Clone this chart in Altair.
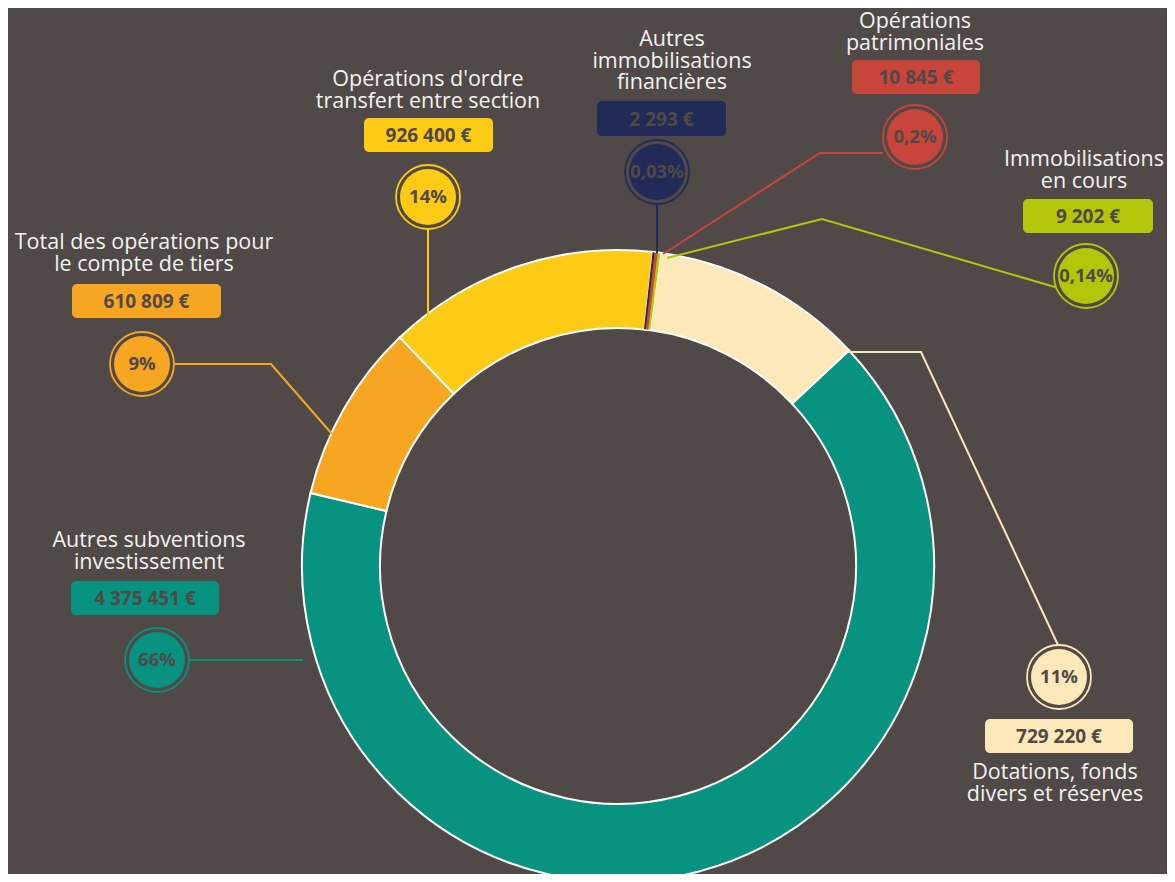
import math
import altair as alt
import pandas as pd

# ---------------- data ----------------
categories = [
    "Autres immobilisations financières",
    "Opérations patrimoniales",
    "Immobilisations en cours",
    "Dotations, fonds divers et réserves",
    "Autres subventions investissement",
    "Total des opérations pour le compte de tiers",
    "Opérations d'ordre transfert entre section",
]
values = [2293, 10845, 9202, 729220, 4375451, 610809, 926400]
value_labels = ["2 293 €", "10 845 €", "9 202 €", "729 220 €", "4 375 451 €", "610 809 €", "926 400 €"]
pct_labels = ["0,03%", "0,2%", "0,14%", "11%", "66%", "9%", "14%"]
title_lines = [
    ["Autres", "immobilisations", "financières"],
    ["Opérations", "patrimoniales"],
    ["Immobilisations", "en cours"],
    ["Dotations, fonds", "divers et réserves"],
    ["Autres subventions", "investissement"],
    ["Total des opérations pour", "le compte de tiers"],
    ["Opérations d'ordre", "transfert entre section"],
]
colors = ["#222a57", "#c8453c", "#b4c60a", "#fde8b9", "#07937f", "#f7a622", "#fdca16"]

# ---------------- layout (page pixel coordinates) ----------------
M = 8  # page margin
BG = "#504947"
TXT_DARK = "#504947"
center = (618, 566)
outer_r, inner_r = 316, 238
start_deg = 6.4

circle_xy = [(657, 172), (915, 137), (1086, 276), (1059, 677), (157, 660), (142, 364), (428, 197)]
boxes = [(597, 726, 101, 136), (852, 980, 60, 94), (1023, 1153, 199, 233), (985, 1133, 719, 753),
         (71, 219, 581, 615), (72, 221, 284, 318), (364, 493, 118, 152)]
title_anchor = [(672, 46), (915, 28), (1084, 166), (1055, 779), (149, 547), (144, 249), (428, 86)]
line_step = 21.5
leaders = [
    [(657, 204), (657, 253)],
    [(883, 153), (820, 153), (663, 254)],
    [(1055, 287), (822, 219), (667, 258)],
    [(847, 352), (921, 352), (1058, 645)],
    [(189, 660), (303, 660)],
    [(174, 364), (271, 364), (332, 434)],
    [(428, 229), (428, 318)],
]

# ---------------- tables ----------------
slices = pd.DataFrame({"cat": categories, "value": values, "idx": list(range(len(categories)))})
total = float(sum(values))

lbl = pd.DataFrame({
    "cat": categories,
    "cx": [p[0] - M for p in circle_xy],
    "cy": [p[1] - M for p in circle_xy],
    "pct": pct_labels,
    "vlabel": value_labels,
    "bx": [b[0] - M for b in boxes],
    "bx2": [b[1] - M for b in boxes],
    "by": [b[2] - M for b in boxes],
    "by2": [b[3] - M for b in boxes],
})
lbl["bxc"] = (lbl["bx"] + lbl["bx2"]) / 2
lbl["byc"] = (lbl["by"] + lbl["by2"]) / 2

trows = []
for c, lines, (ax, ay) in zip(categories, title_lines, title_anchor):
    for i, t in enumerate(lines):
        trows.append({"cat": c, "text": t, "tx": ax - M, "ty": ay - M + i * line_step})
titles = pd.DataFrame(trows)

lrows = []
for c, pts in zip(categories, leaders):
    for j, (px, py) in enumerate(pts):
        lrows.append({"cat": c, "pt": j, "lx": px - M, "ly": py - M})
lines_df = pd.DataFrame(lrows)

cscale = alt.Scale(domain=categories, range=colors)
off = math.radians(start_deg)
theta_scale = alt.Scale(domain=[0, total], range=[off, off + 2 * math.pi])
CX, CY = center[0] - M, center[1] - M

base_arc = alt.Chart(slices).transform_window(
    cum="sum(value)", sort=[alt.SortField("idx")]
).transform_calculate(start="datum.cum - datum.value")

donut = base_arc.mark_arc(outerRadius=outer_r, innerRadius=inner_r, stroke="white", strokeWidth=2).encode(
    theta=alt.Theta("start:Q", scale=theta_scale),
    theta2=alt.Theta2("cum:Q"),
    color=alt.Color("cat:N", scale=cscale, legend=None),
    x=alt.value(CX), y=alt.value(CY),
)

tiny = base_arc.transform_filter("datum.value < 50000").mark_arc(
    outerRadius=outer_r - 1, innerRadius=inner_r + 1, strokeWidth=1.2
).encode(
    theta=alt.Theta("start:Q", scale=theta_scale),
    theta2=alt.Theta2("cum:Q"),
    color=alt.Color("cat:N", scale=cscale, legend=None),
    stroke=alt.Stroke("cat:N", scale=cscale, legend=None),
    order=alt.Order("idx:Q", sort="descending"),
    x=alt.value(CX), y=alt.value(CY),
)

leader = alt.Chart(lines_df).mark_line(strokeWidth=2).encode(
    x=alt.X("lx:Q", scale=None, axis=None),
    y=alt.Y("ly:Q", scale=None, axis=None),
    detail="cat:N",
    order=alt.Order("pt:Q"),
    color=alt.Color("cat:N", scale=cscale, legend=None),
)

ring = alt.Chart(lbl).mark_point(shape="circle", filled=False, size=64 * 64, strokeWidth=1.8, opacity=1).encode(
    x=alt.X("cx:Q", scale=None, axis=None),
    y=alt.Y("cy:Q", scale=None, axis=None),
    stroke=alt.Stroke("cat:N", scale=cscale, legend=None),
)
disc = alt.Chart(lbl).mark_point(shape="circle", filled=True, size=56 * 56, opacity=1).encode(
    x=alt.X("cx:Q", scale=None, axis=None),
    y=alt.Y("cy:Q", scale=None, axis=None),
    color=alt.Color("cat:N", scale=cscale, legend=None),
)
pct_text = alt.Chart(lbl).mark_text(font="Open Sans", fontWeight="bold", fontSize=18.5, color=TXT_DARK,
                                     baseline="middle", align="center").encode(
    x=alt.X("cx:Q", scale=None, axis=None),
    y=alt.Y("cy:Q", scale=None, axis=None),
    text="pct:N",
)

box = alt.Chart(lbl).mark_rect(cornerRadius=5).encode(
    x=alt.X("bx:Q", scale=None, axis=None), x2="bx2:Q",
    y=alt.Y("by:Q", scale=None, axis=None), y2="by2:Q",
    color=alt.Color("cat:N", scale=cscale, legend=None),
)
box_text = alt.Chart(lbl).mark_text(font="Open Sans", fontWeight="bold", fontSize=19, color=TXT_DARK,
                                     baseline="middle", align="center", dy=1).encode(
    x=alt.X("bxc:Q", scale=None, axis=None),
    y=alt.Y("byc:Q", scale=None, axis=None),
    text="vlabel:N",
)

title_text = alt.Chart(titles).mark_text(font="Open Sans", fontSize=21.5, color="#f4f2f1",
                                          baseline="alphabetic", align="center").encode(
    x=alt.X("tx:Q", scale=None, axis=None),
    y=alt.Y("ty:Q", scale=None, axis=None),
    text="text:N",
)

chart = alt.layer(donut, tiny, leader, ring, disc, pct_text, box, box_text, title_text).properties(
    width=1159, height=866, background=BG, padding=0,
    autosize=alt.AutoSizeParams(type="none"),
).configure_view(stroke=None)

chart.save("out.html", embed_options={"renderer": "svg", "actions": False})
